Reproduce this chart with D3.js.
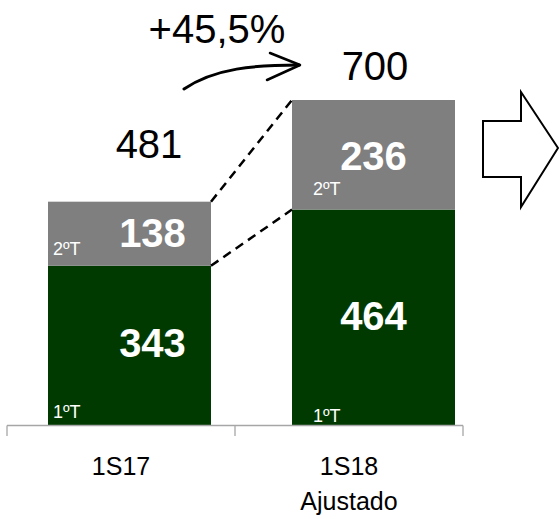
<!DOCTYPE html>
<html><head><meta charset="utf-8">
<script src="https://cdn.jsdelivr.net/npm/d3@7"></script>
<style>html,body{margin:0;padding:0;background:#fff;}svg{display:block;font-family:"Liberation Sans",Arial,sans-serif;}</style>
</head><body>
<script>
const categories = ["1S17", "1S18\nAjustado"];
const q1 = [343, 464];
const q2 = [138, 236];
const totals = [481, 700];
const seriesLabels = ["1ºT", "2ºT"];
const growthLabel = "+45,5%";

const W = 559, H = 519;
const svg = d3.select("body").append("svg").attr("width", W).attr("height", H);

const y = d3.scaleLinear().domain([0, 700]).range([425, 100]);
const xBars = d3.scaleBand().domain(categories).range([48, 455]).paddingInner(81/244).paddingOuter(0);
const xAxisScale = d3.scaleBand().domain(categories).range([7, 463]);

const data = categories.map((c, i) => ({c, q1: q1[i], q2: q2[i], total: totals[i]}));
const stack = d3.stack().keys(["q1", "q2"])(data);
const colors = {q1: "#003a00", q2: "#7f7f7f"};

stack.forEach(layer => {
  svg.selectAll(null).data(layer).enter().append("rect")
    .attr("x", d => xBars(d.data.c))
    .attr("y", d => y(d[1]))
    .attr("width", xBars.bandwidth())
    .attr("height", d => y(d[0]) - y(d[1]))
    .attr("fill", colors[layer.key]);
});

// dashed connectors
const b0 = xBars(categories[0]) + xBars.bandwidth(), b1 = xBars(categories[1]);
[[totals[0], totals[1]], [q1[0], q1[1]]].forEach(([a, b]) => {
  svg.append("line").attr("x1", b0).attr("y1", y(a)).attr("x2", b1).attr("y2", y(b))
    .attr("stroke", "#000").attr("stroke-width", 2.5).attr("stroke-dasharray", "9,6");
});

// axis
const axisG = svg.append("g");
axisG.append("line").attr("x1", 7).attr("x2", 463).attr("y1", 425.5).attr("y2", 425.5)
  .attr("stroke", "#a6a6a6").attr("stroke-width", 1.3);
const tickXs = [xAxisScale(categories[0]), xAxisScale(categories[1]), xAxisScale(categories[1]) + xAxisScale.bandwidth()];
tickXs.forEach(tx => axisG.append("line").attr("x1", tx).attr("x2", tx).attr("y1", 425.5).attr("y2", 436)
  .attr("stroke", "#a6a6a6").attr("stroke-width", 1.3));
categories.forEach(c => {
  const lines = c.split("\n");
  const t = axisG.append("text").attr("x", xAxisScale(c) + xAxisScale.bandwidth()/2)
    .attr("y", 475).attr("text-anchor", "middle").attr("font-size", 25).attr("fill", "#000");
  lines.forEach((l, i) => t.append("tspan").attr("x", xAxisScale(c) + xAxisScale.bandwidth()/2)
    .attr("dy", i === 0 ? 0 : 35).text(l));
});

// value labels
data.forEach((d, i) => {
  const cx = xBars(d.c) + xBars.bandwidth()/2;
  const x0 = xBars(d.c);
  const q1Y = i === 0 ? 357 : 330;
  svg.append("text").attr("x", cx + (i === 0 ? 23 : 0)).attr("y", q1Y)
    .attr("text-anchor", "middle").attr("font-size", 40).attr("font-weight", "bold").attr("fill", "#fff").text(d.q1);
  const q2Y = i === 0 ? 247 : 170;
  svg.append("text").attr("x", cx + (i === 0 ? 23 : 0)).attr("y", q2Y)
    .attr("text-anchor", "middle").attr("font-size", 40).attr("font-weight", "bold").attr("fill", "#fff").text(d.q2);
  svg.append("text").attr("x", x0 + (i === 0 ? 5 : 21)).attr("y", i === 0 ? 418 : 422)
    .attr("font-size", 18).attr("fill", "#fff").text(seriesLabels[0]);
  svg.append("text").attr("x", x0 + (i === 0 ? 5 : 21)).attr("y", i === 0 ? 255 : 195)
    .attr("font-size", 18).attr("fill", "#fff").text(seriesLabels[1]);
  svg.append("text").attr("x", i === 0 ? 149 : 375).attr("y", i === 0 ? 158 : 80)
    .attr("text-anchor", "middle").attr("font-size", 40).attr("fill", "#000").text(d.total);
});

// growth label and curved arrow
svg.append("text").attr("x", 217).attr("y", 43).attr("text-anchor", "middle")
  .attr("font-size", 40).attr("fill", "#000").text(growthLabel);
svg.append("path").attr("d", "M184,89 C215,68 255,65 299,65")
  .attr("fill", "none").attr("stroke", "#000").attr("stroke-width", 3).attr("stroke-linecap", "round");
svg.append("path").attr("d", "M270,53 L300,65 L267,80")
  .attr("fill", "none").attr("stroke", "#000").attr("stroke-width", 2.5).attr("stroke-linecap", "round").attr("stroke-linejoin", "round");

// block arrow
svg.append("path").attr("d", "M483,121 L521,121 L521,92 L558,148 L521,207 L521,177 L483,177 Z")
  .attr("fill", "#fff").attr("stroke", "#000").attr("stroke-width", 2);
</script>
</body></html>
